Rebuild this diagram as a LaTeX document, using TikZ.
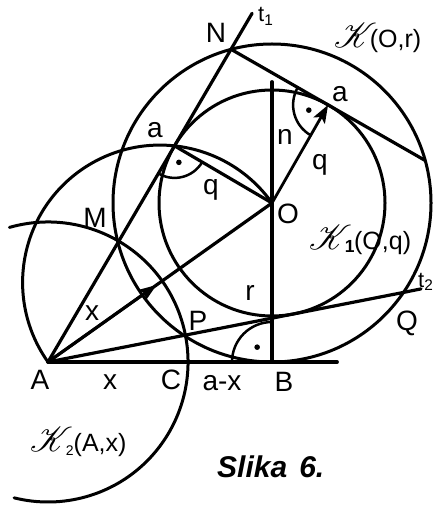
\documentclass[tikz,border=0pt]{standalone}
\usepackage{fontspec}
\setmainfont{Liberation Sans}
\usepackage{mathrsfs}
\usepackage{graphicx}
\usetikzlibrary{arrows.meta}
\newcommand{\bigK}{\scalebox{1.4}{$\mathscr{K}$}\hspace{-7pt}}
\tikzset{
  circ/.style={line width=3pt},
  tline/.style={line width=3.2pt},
  heavy/.style={line width=3.8pt},
  rmark/.style={line width=2.5pt},
  arrline/.style={line width=2.8pt,-{Stealth[length=18pt,width=13pt,inset=4pt]}},
  lab/.style={font=\fontsize{28}{30}\selectfont, inner sep=0pt, anchor=base},
  klab/.style={font=\fontsize{25}{27}\selectfont, inner sep=0pt, anchor=base west},
  tlab/.style={font=\fontsize{22}{24}\selectfont, inner sep=0pt, anchor=base west},
  dotm/.style={fill=black}
}
\begin{document}
\begin{tikzpicture}[x=1pt,y=-1pt,line cap=round,line join=round]
\useasboundingbox (0,0) rectangle (435,510);
% points
\coordinate (A) at (48,362);
\coordinate (B) at (272,362);
\coordinate (O) at (272,203);
\coordinate (D) at (337,362);
\coordinate (V) at (272,82);
\coordinate (T1) at (174.6,145.9);
\coordinate (M) at (118.0,242.5);
\coordinate (N) at (231.0,49.3);
\coordinate (E1) at (252.1,13.3);
\coordinate (P) at (183.9,335.4);
\coordinate (C) at (186.5,362);
\coordinate (Q) at (403.6,292.4);
\coordinate (E2) at (421,288.9);
\coordinate (T3) at (328.1,104.9);
\coordinate (R) at (425.2,160.5);
\coordinate (X) at (156.5,285);
% circles
\draw[circ] (O) circle[radius=159];
\draw[circ] (O) circle[radius=113];
\draw[circ] (A) ++(-106:140) arc[start angle=-106,end angle=104,radius=140];
\draw[circ] (A) arc[start angle=144.6,end angle=324.6,radius=137.35];
% lines
\draw[tline] (A) -- (M) -- (N) -- (E1);
\draw[tline] (A) -- (P) -- (Q) -- (E2);
\draw[heavy] (A) -- (C) -- (B) -- (D);
\draw[heavy] (V) -- (O) -- (B);
\draw[tline] (N) -- (T3) -- (R);
\draw[tline] (T1) -- (O);
\draw[tline] (A) -- (O);
\draw[arrline] (A) -- (X);
\draw[arrline] (O) -- (T3);
% right angle marks
\draw[rmark] (T1) ++(30.4:32) arc[start angle=30.4,end angle=120.4,radius=32];
\fill[dotm] (T1) ++(75.4:17) circle[radius=2.8];
\draw[rmark] (T3) ++(119.8:35) arc[start angle=119.8,end angle=209.8,radius=35];
\fill[dotm] (T3) ++(164.8:20) circle[radius=2.8];
\draw[rmark] (B) ++(180:40) arc[start angle=180,end angle=270,radius=40];
\fill[dotm] (B) ++(225:21) circle[radius=2.8];
% labels
\node[lab] (lN) at (216,43) {N};
\node[lab] (lM) at (95,227) {M};
\node[lab] (lO) at (288,223) {O};
\node[lab] (lP) at (198,330) {P};
\node[lab] (lQ) at (407,330) {Q};
\node[lab] (lA) at (40,389) {A};
\node[lab] (lB) at (284,391) {B};
\node[lab] (lC) at (171,389) {C};
\node[lab] (lx1) at (110,389) {x};
\node[lab] (lax) at (222,390) {a-x};
\node[lab] (lx2) at (92,320) {x};
\node[lab] (la1) at (155,138) {a};
\node[lab] (lq1) at (211,195) {q};
\node[lab] (ln) at (285,145) {n};
\node[lab] (la2) at (340,102) {a};
\node[lab] (lq2) at (320,170) {q};
\node[lab] (lr) at (250,300) {r};
\node[tlab] (lt1) at (258,22) {t\textsubscript{1}};
\node[tlab] (lt2) at (418,287) {t\textsubscript{2}};
\node[klab] (lK) at (334,48) {\bigK(O,r)};
\node[klab] (lK1) at (309,249) {\bigK\textsubscript{\textbf{1}}\hspace{-1pt}(O,q)};
\node[klab] (lK2) at (30,451) {\bigK\raisebox{-4pt}{\fontsize{14}{14}\selectfont 2}(A,x)};
\node[anchor=base west, inner sep=0pt, font=\fontsize{30}{32}\selectfont\bfseries\itshape] (cap) at (217,477) {Slika\hspace{12pt}6.};
\end{tikzpicture}
\end{document}
